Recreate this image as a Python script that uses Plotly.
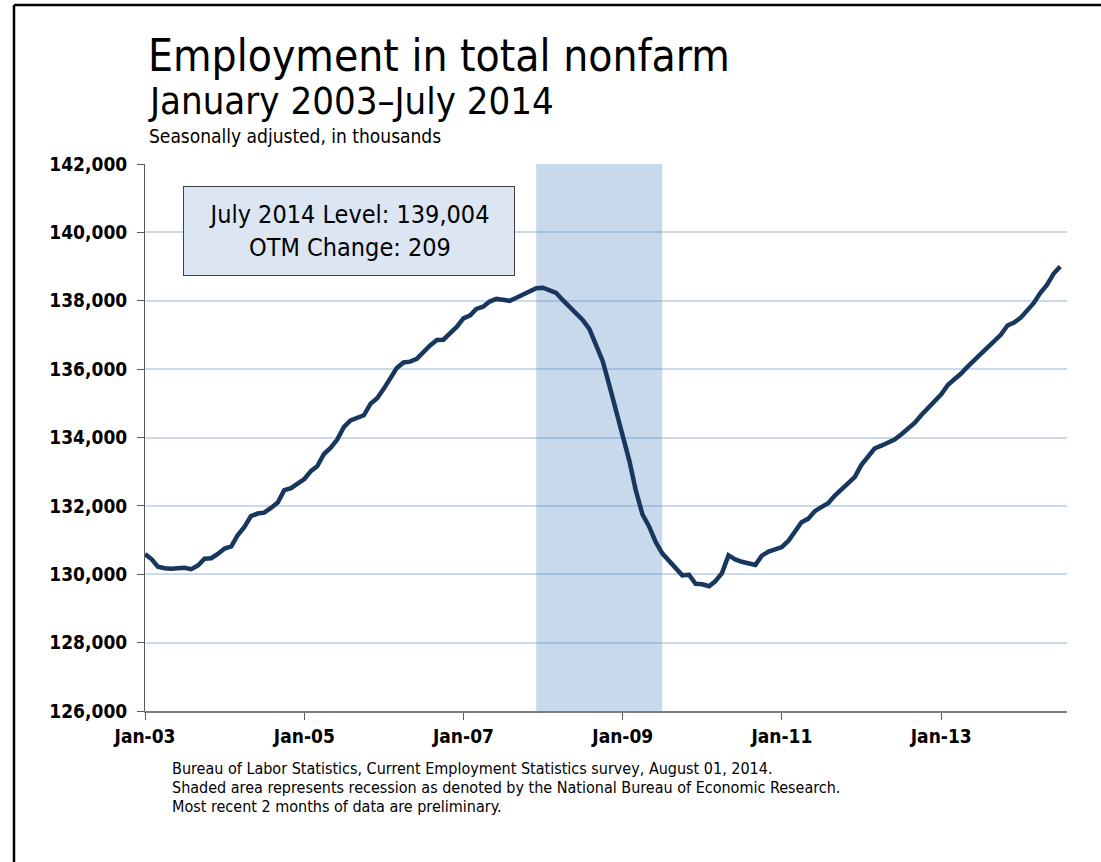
import plotly.graph_objects as go
import pandas as pd

# ---- data: total nonfarm employment, seasonally adjusted (thousands) ----
emp_2003 = [130591, 130436, 130223, 130174, 130162, 130167, 130190, 130149, 130257, 130457, 130468, 130592]
emp_2004 = [130752, 130815, 131141, 131387, 131699, 131776, 131803, 131941, 132098, 132458, 132520, 132653]
emp_2005 = [132785, 133024, 133156, 133517, 133693, 133938, 134303, 134498, 134563, 134650, 134989, 135146]
emp_2006 = [135431, 135748, 136030, 136196, 136219, 136302, 136507, 136692, 136855, 136860, 137055, 137233]
emp_2007 = [137486, 137573, 137763, 137824, 137977, 138054, 138027, 137998, 138086, 138170, 138291, 138365]
emp_2008 = [138381, 138303, 138231, 138016, 137831, 137653, 137440, 137172, 136712, 136233, 135510, 134805]
emp_2009 = [133999, 133296, 132471, 131756, 131405, 130941, 130611, 130398, 130170, 129968, 129984, 129719]
emp_2010 = [129707, 129648, 129792, 130035, 130551, 130435, 130365, 130318, 130269, 130545, 130662, 130728]
emp_2011 = [130797, 130984, 131220, 131524, 131620, 131845, 131965, 132077, 132301, 132475, 132621, 132839]
emp_2012 = [133200, 133458, 133678, 133760, 133862, 133938, 134089, 134254, 134426, 134653, 134852, 135065]
emp_2013 = [135263, 135541, 135676, 135865, 136064, 136252, 136401, 136600, 136778, 137003, 137277, 137361]
emp_2014 = [137505, 137727, 137930, 138234, 138463, 138795, 139004]

employment = (emp_2003 + emp_2004 + emp_2005 + emp_2006 + emp_2007 + emp_2008 +
              emp_2009 + emp_2010 + emp_2011 + emp_2012 + emp_2013 + emp_2014)
months = pd.date_range("2003-01-01", periods=len(employment), freq="MS")

recession_start = "2007-12-01"
recession_end = "2009-07-01"

x_tick_dates = ["2003-01-01", "2005-01-01", "2007-01-01", "2009-01-01", "2011-01-01", "2013-01-01"]
x_tick_labels = ["Jan-03", "Jan-05", "Jan-07", "Jan-09", "Jan-11", "Jan-13"]
y_ticks = [126000, 128000, 130000, 132000, 134000, 136000, 138000, 140000, 142000]

title_text = "Employment in total nonfarm"
subtitle_text = "January 2003\u2013July 2014"
units_text = "Seasonally adjusted, in thousands"
box_text = "July 2014 Level: 139,004<br>OTM Change: 209"
footnotes = [
    "Bureau of Labor Statistics, Current Employment Statistics survey, August 01, 2014.",
    "Shaded area represents recession as denoted by the National Bureau of Economic Research.",
    "Most recent 2 months of data are preliminary.",
]

# ---- layout geometry (page pixels) ----
W, H = 1101, 862
L, R, T, B = 145, 1067, 164, 711
pw, ph = R - L, B - T

def px(xp):
    return (xp - L) / pw

def py(yp):
    return (B - yp) / ph

FONT = "DejaVu Sans Condensed, DejaVu Sans, sans-serif"
NARROW = "Liberation Sans Narrow, DejaVu Sans Condensed, DejaVu Sans, sans-serif"

fig = go.Figure()
fig.add_trace(go.Scatter(
    x=months, y=employment, mode="lines",
    line=dict(color="#17375e", width=4.5), hoverinfo="x+y", showlegend=False,
))

# recession shading
fig.add_shape(type="rect", xref="x", yref="paper", x0=recession_start, x1=recession_end,
              y0=0, y1=1, fillcolor="#c9d9ec", line=dict(width=0), layer="below")

# outer frame (top and left edges visible)
fig.add_shape(type="line", xref="paper", yref="paper", x0=px(14), x1=px(1110), y0=py(5), y1=py(5),
              line=dict(color="black", width=2.5))
fig.add_shape(type="line", xref="paper", yref="paper", x0=px(14), x1=px(14), y0=py(5), y1=py(870),
              line=dict(color="black", width=2.5))

annotations = [
    dict(text=title_text, x=px(146), y=py(55), xanchor="left", yanchor="middle",
         font=dict(family=FONT, size=44, color="black")),
    dict(text=subtitle_text, x=px(146), y=py(101), xanchor="left", yanchor="middle",
         font=dict(family=FONT, size=38, color="black")),
    dict(text=units_text, x=px(147), y=py(136), xanchor="left", yanchor="middle",
         font=dict(family=FONT, size=19, color="black")),
    dict(text=box_text, x=px(349), y=py(231), xanchor="center", yanchor="middle",
         width=330, height=88, align="center", valign="middle",
         bgcolor="#dce6f2", bordercolor="#404040", borderwidth=1, borderpad=0,
         font=dict(family=FONT, size=25, color="black")),
]
for i, line in enumerate(footnotes):
    annotations.append(dict(text=line, x=px(170), y=py(768 + 19.5 * i), xanchor="left", yanchor="middle",
                            font=dict(family=NARROW, size=16, color="black")))
for a in annotations:
    a.update(xref="paper", yref="paper", showarrow=False)

fig.update_layout(
    width=W, height=H,
    margin=dict(l=L, r=W - R, t=T, b=H - B, pad=0),
    paper_bgcolor="white", plot_bgcolor="white",
    annotations=annotations,
    xaxis=dict(
        type="date", range=["2003-01-01", "2014-08-01"],
        tickvals=x_tick_dates, ticktext=x_tick_labels,
        ticks="outside", ticklen=7, tickcolor="#595959", tickwidth=1,
        showline=True, linecolor="#7f7f7f", linewidth=2,
        showgrid=False, zeroline=False,
        tickfont=dict(family=FONT, size=19, color="black", weight="bold"),
        ticklabelstandoff=0,
    ),
    yaxis=dict(
        range=[126000, 142000], tickvals=y_ticks, tickformat=",",
        ticks="outside", ticklen=7, tickcolor="#595959", tickwidth=1,
        showline=True, linecolor="#595959", linewidth=1,
        showgrid=True, gridcolor="rgba(79,129,189,0.3)", gridwidth=2,
        zeroline=False,
        tickfont=dict(family=FONT, size=19, color="black", weight="bold"),
        ticklabelstandoff=6,
    ),
)

fig.write_html("out.html", config={"displayModeBar": False},
               post_script="document.body.style.margin='0';")
